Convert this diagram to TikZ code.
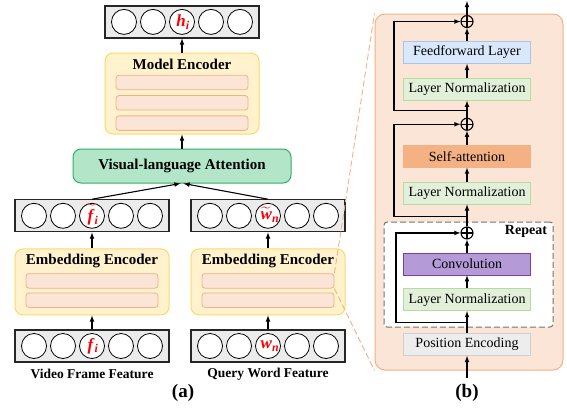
\documentclass[tikz,border=0pt]{standalone}
\usepackage{fontspec}
\setmainfont{Liberation Serif}
\usepackage{amsmath}
\usepackage{xcolor}
\usepackage{tikz}
\usetikzlibrary{
    shapes,
    positioning,
    calc,
    arrows
}
\definecolor{encfill}{HTML}{FFF2CC}
\definecolor{encdraw}{HTML}{FFD966}
\definecolor{slabfill}{HTML}{FBE5D6}
\definecolor{slabdraw}{HTML}{F4B183}
\definecolor{attfill}{HTML}{B3E6C8}
\definecolor{attdraw}{HTML}{2DB062}
\definecolor{fffill}{HTML}{DAE8FC}
\definecolor{ffdraw}{HTML}{A9C4EB}
\definecolor{lnfill}{HTML}{E2F0D9}
\definecolor{lndraw}{HTML}{B5DC9C}
\definecolor{safill}{HTML}{F4B183}
\definecolor{convfill}{HTML}{B49AD6}
\definecolor{convdraw}{HTML}{7B3FA8}
\definecolor{pefill}{HTML}{EDEDED}
\definecolor{pedraw}{HTML}{D0CECE}
\definecolor{vecfill}{HTML}{EBEBEB}
% variable names inside the cells
\newcommand{\cellvar}[2]{\textbf{\textit{#1}}\textsubscript{\textbf{\textit{#2}}}}
\newcommand{\cellvartil}[2]{$\widetilde{\mbox{\textbf{\textit{#1}}}}$\textsubscript{\textbf{\textit{#2}}}}
\tikzset{
  vecbox/.style = {
      draw=black!85,
      line width=1.2pt,
      fill=vecfill,
      minimum width=154pt,
      minimum height=32pt,
      inner sep=0pt
  },
  cell/.style = {
      circle,
      draw,
      line width=0.8pt,
      fill=white,
      minimum size=25pt,
      inner sep=0pt
  },
  cellname/.style = {
      text=red,
      inner sep=0pt,
      font=\fontsize{17}{17}\selectfont
  },
  encoder/.style = {
      draw=encdraw,
      fill=encfill,
      line width=1pt,
      rounded corners=8pt,
      minimum width=154pt,
      inner sep=0pt
  },
  slab/.style = {
      draw=slabdraw,
      fill=slabfill,
      line width=0.8pt,
      rounded corners=3pt,
      minimum width=132pt,
      minimum height=14.5pt,
      inner sep=0pt
  },
  headline/.style = {
      font=\fontsize{15}{18}\selectfont\bfseries
  },
  block/.style = {
      draw,
      line width=0.8pt,
      minimum width=127pt,
      minimum height=22pt,
      inner sep=0pt,
      font=\fontsize{14}{16}\selectfont
  },
  figcap/.style = {
      font=\fontsize{13.5}{16}\selectfont\bfseries
  },
  sublabel/.style = {
      font=\fontsize{19}{22}\selectfont\bfseries
  },
  addop/.style = {
      circle,
      draw,
      line width=1.1pt,
      minimum size=12pt,
      inner sep=0pt,
      path picture={
        \draw[line width=1.1pt]
        (path picture bounding box.north) -- (path picture bounding box.south)
        (path picture bounding box.west) -- (path picture bounding box.east);
      }
  },
  flow/.style = {
      -latex,
      line width=1.1pt
  },
  zoomline/.style = {
      draw=slabdraw,
      line width=0.9pt,
      dash pattern=on 6pt off 3pt
  }
}
\begin{document}
\begin{tikzpicture}[x=1pt, y=-1pt]
    \useasboundingbox (0,0) rectangle (567,407);
    % (a) Nodes
    \node[draw=attdraw, fill=attfill, line width=1pt, rounded corners=8pt,
          minimum width=218pt, minimum height=34pt, headline] (vla) at (182,166)
          {Visual-language Attention};
    \node[encoder, minimum height=81pt, above=14pt of vla] (me) {};
    \node[vecbox, above=14pt of me] (vtop) {};
    \node[vecbox] (vfL) at (92,346) {};
    \node[vecbox] (vfR) at (268,346) {};
    \node[encoder, minimum height=66pt, above=14pt of vfL] (eeL) {};
    \node[encoder, minimum height=66pt, above=14pt of vfR] (eeR) {};
    \node[vecbox, above=16pt of eeL] (vecL) {};
    \node[vecbox, above=16pt of eeR] (vecR) {};
    \node[headline] (metitle) at ($(me.north)+(0,12)$) {Model Encoder};
    \node[slab] (mebar1) at ($(me.north)+(0,30)$) {};
    \node[slab, below=5pt of mebar1] (mebar2) {};
    \node[slab, below=5pt of mebar2] (mebar3) {};
    \node[headline] (eeLtitle) at ($(eeL.north)+(0,13)$) {Embedding Encoder};
    \node[slab] (eeLbar1) at ($(eeL.north)+(0,32.5)$) {};
    \node[slab, below=4pt of eeLbar1] (eeLbar2) {};
    \node[headline] (eeRtitle) at ($(eeR.north)+(0,13)$) {Embedding Encoder};
    \node[slab] (eeRbar1) at ($(eeR.north)+(0,32.5)$) {};
    \node[slab, below=4pt of eeRbar1] (eeRbar2) {};
    \foreach \v in {vtop,vecL,vecR,vfL,vfR}
      \foreach \k in {-2,...,2}
        \node[cell] (\v\k) at ($(\v.center)+(29*\k,0)$) {};
    \node[cellname] (hi) at ($(vtop0)+(1,0)$) {\cellvar{h}{i}};
    \node[cellname] (fti) at ($(vecL0)+(1,-1)$) {\cellvartil{f}{i}};
    \node[cellname] (wtn) at ($(vecR0)+(2,-1)$) {\cellvartil{w}{n}};
    \node[cellname] (fi) at ($(vfL0)+(1,0)$) {\cellvar{f}{i}};
    \node[cellname] (wn) at ($(vfR0)+(2,0)$) {\cellvar{w}{n}};
    \node[figcap] (capL) at (92,374) {Video Frame Feature};
    \node[figcap] (capR) at (268,374) {Query Word Feature};
    \node[sublabel] (suba) at (183,393) {(a)};
    % (a) Edges
    \draw[flow] (vfL) -- (eeL);
    \draw[flow] (vfR) -- (eeR);
    \draw[flow] (eeL) -- (vecL);
    \draw[flow] (eeR) -- (vecR);
    \draw[flow] (vecL.north) -- ($(vla.south)+(-1.5,0)$);
    \draw[flow] (vecR.north) -- ($(vla.south)+(1.5,0)$);
    \draw[flow] (vla) -- (me);
    \draw[flow] (me) -- (vtop);
    % (b) Nodes
    \node[draw=slabdraw, fill=slabfill, line width=1pt, rounded corners=10pt,
          minimum width=188pt, minimum height=356pt] (bbox) at (469,192) {};
    \node[draw=black!55, fill=white, line width=1pt, dash pattern=on 6pt off 3pt,
          rounded corners=3pt, minimum width=169pt, minimum height=105pt] (rep) at (468.5,274.5) {};
    \node[anchor=east, font=\fontsize{14}{16}\selectfont\bfseries] (reptext)
          at ($(rep.north east)+(-3,10)$) {Repeat};
    \node[block, draw=pedraw, fill=pefill] (pe) at (467,344.5) {Position Encoding};
    \node[block, draw=lndraw, fill=lnfill, above=22pt of pe] (ln3) {Layer Normalization};
    \node[block, draw=convdraw, fill=convfill, above=13pt of ln3] (conv) {Convolution};
    \node[addop, above=13pt of conv] (op3) {};
    \node[block, draw=lndraw, fill=lnfill, above=22pt of op3] (ln2) {Layer Normalization};
    \node[block, draw=safill, fill=safill, above=14pt of ln2] (sa) {Self-attention};
    \node[addop, above=14pt of sa] (op2) {};
    \node[block, draw=lndraw, fill=lnfill, above=17pt of op2] (ln1) {Layer Normalization};
    \node[block, draw=ffdraw, fill=fffill, above=14pt of ln1] (ff) {Feedforward Layer};
    \node[addop, above=13pt of ff] (op1) {};
    \node[sublabel] (subb) at (467,393) {(b)};
    \coordinate (in) at (467,378);
    \coordinate (out) at (467,1);
    \coordinate (br3) at ($(pe.north)+(0,-11)$);
    \coordinate (br2) at ($(ln2.south)+(0,12)$);
    \coordinate (br1) at ($(ln1.south)+(0,10)$);
    % (b) Edges
    \draw[flow] (in) -- (pe);
    \draw[flow] (pe) -- (ln3);
    \draw[flow] (ln3) -- (conv);
    \draw[flow] (conv) -- (op3);
    \draw[flow] (op3) -- (ln2);
    \draw[flow] (ln2) -- (sa);
    \draw[flow] (sa) -- (op2);
    \draw[flow] (op2) -- (ln1);
    \draw[flow] (ln1) -- (ff);
    \draw[flow] (ff) -- (op1);
    \draw[flow] (op1) -- (out);
    \draw[flow] (br3) -- ++(-71,0) |- (op3);
    \draw[flow] (br2) -- ++(-73,0) |- (op2);
    \draw[flow] (br1) -- ++(-73,0) |- (op1);
    % zoom lines
    \draw[zoomline] (eeRbar1.north east) -- (bbox.north west);
    \draw[zoomline] (eeRbar1.south east) -- (bbox.south west);
\end{tikzpicture}
\end{document}
